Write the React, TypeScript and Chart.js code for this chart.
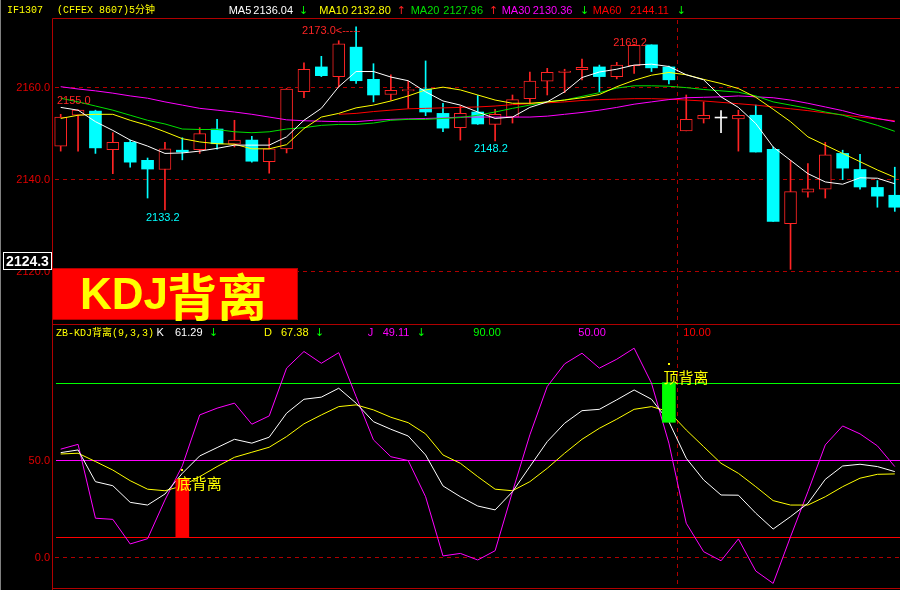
import React, { useEffect, useRef } from 'react';
import { Chart, registerables } from 'chart.js';

Chart.register(...registerables);

// 5-minute bars, IF1307
const opens = [2147.1, 2153.8, 2154.7, 2146.3, 2147.9, 2144.0, 2142.0, 2146.2, 2146.3, 2150.8, 2147.5, 2148.4, 2143.7, 2146.5, 2158.9, 2164.3, 2162.2, 2168.6, 2161.6, 2158.3, 2159.1, 2159.5, 2154.2, 2151.1, 2154.5, 2151.8, 2153.4, 2157.4, 2161.2, 2163.1, 2163.7, 2164.3, 2162.2, 2164.6, 2169.1, 2164.3, 2150.4, 2153.0, 2153.3, 2153.0, 2153.8, 2146.4, 2130.2, 2137.1, 2137.7, 2145.5, 2142.0, 2138.1, 2136.4];
const highs = [2154.0, 2155.0, 2154.9, 2150.0, 2148.4, 2144.5, 2147.9, 2148.9, 2151.1, 2152.9, 2152.7, 2149.2, 2148.8, 2159.6, 2165.2, 2166.6, 2170.0, 2173.0, 2165.0, 2162.6, 2161.2, 2165.6, 2156.4, 2155.8, 2158.1, 2155.1, 2158.2, 2163.2, 2164.0, 2163.8, 2166.0, 2164.7, 2165.3, 2169.2, 2169.1, 2164.5, 2158.2, 2156.7, 2154.8, 2154.9, 2156.0, 2146.9, 2144.0, 2143.3, 2147.9, 2146.2, 2145.3, 2139.6, 2142.5];
const lows = [2146.0, 2146.0, 2145.5, 2141.1, 2142.5, 2135.8, 2133.2, 2144.1, 2145.5, 2146.4, 2146.9, 2143.6, 2141.2, 2145.6, 2157.6, 2162.2, 2160.0, 2160.7, 2156.7, 2157.1, 2155.3, 2153.7, 2150.2, 2148.4, 2151.8, 2148.2, 2152.1, 2156.2, 2158.2, 2158.7, 2161.5, 2158.9, 2161.7, 2162.9, 2163.3, 2160.6, 2150.4, 2152.1, 2150.0, 2146.0, 2145.8, 2130.7, 2120.3, 2136.0, 2135.8, 2139.8, 2137.7, 2133.8, 2132.9];
const closes = [2153.4, 2154.9, 2146.7, 2147.9, 2143.6, 2142.1, 2146.5, 2145.8, 2149.8, 2147.6, 2148.4, 2143.8, 2146.5, 2159.5, 2163.8, 2162.4, 2169.3, 2161.3, 2158.2, 2159.2, 2159.4, 2154.5, 2151.0, 2154.2, 2151.9, 2154.0, 2157.2, 2161.2, 2163.1, 2163.4, 2164.2, 2162.2, 2164.7, 2169.0, 2164.1, 2161.5, 2152.9, 2153.8, 2153.3, 2153.8, 2145.8, 2130.7, 2137.2, 2137.8, 2145.2, 2142.3, 2138.2, 2136.2, 2133.8];

// moving averages
const ma5 = [2155.5, 2154.9, 2152.4, 2150.5, 2148.4, 2147.1, 2145.5, 2145.6, 2146.0, 2146.6, 2147.3, 2147.3, 2147.3, 2149.1, 2152.7, 2155.3, 2160.0, 2163.3, 2163.3, 2162.1, 2161.3, 2158.9, 2156.9, 2156.0, 2154.5, 2153.1, 2153.4, 2155.5, 2156.7, 2158.9, 2162.0, 2163.2, 2163.8, 2164.7, 2164.9, 2164.4, 2162.6, 2161.5, 2157.8, 2155.5, 2152.0, 2146.9, 2144.0, 2141.1, 2139.3, 2138.8, 2140.2, 2140.1, 2138.9];
const ma10 = [2153.1, 2153.8, 2154.0, 2154.0, 2152.7, 2151.6, 2150.2, 2148.7, 2148.0, 2147.6, 2147.5, 2146.5, 2146.5, 2147.4, 2150.9, 2153.4, 2154.2, 2155.4, 2156.0, 2156.9, 2158.0, 2159.3, 2159.9, 2159.3, 2158.2, 2157.1, 2156.4, 2156.4, 2156.7, 2157.1, 2157.6, 2158.3, 2160.0, 2161.4, 2162.5, 2163.1, 2162.6, 2161.6, 2160.7, 2159.6, 2157.7, 2155.1, 2152.4, 2149.1, 2147.3, 2145.5, 2143.7, 2141.9, 2140.3];
const ma20 = [2157.5, 2156.7, 2155.8, 2154.9, 2153.8, 2152.7, 2151.9, 2150.8, 2150.7, 2150.7, 2150.2, 2150.0, 2150.2, 2150.8, 2151.1, 2151.6, 2151.8, 2151.8, 2152.1, 2152.7, 2152.9, 2152.9, 2153.1, 2153.3, 2153.8, 2154.5, 2155.3, 2156.0, 2156.7, 2157.1, 2157.9, 2158.7, 2159.7, 2160.2, 2160.2, 2160.1, 2159.8, 2159.4, 2159.1, 2158.8, 2158.0, 2156.7, 2156.0, 2155.3, 2154.5, 2153.8, 2152.7, 2151.6, 2150.3];
const ma30 = [2160.0, 2159.5, 2159.1, 2158.6, 2158.0, 2157.5, 2156.7, 2156.0, 2155.3, 2154.9, 2154.5, 2154.0, 2153.4, 2152.8, 2152.6, 2152.5, 2152.4, 2152.4, 2152.7, 2152.9, 2153.0, 2153.1, 2153.2, 2153.4, 2153.4, 2153.4, 2153.4, 2153.4, 2153.6, 2154.0, 2154.4, 2154.9, 2155.5, 2156.2, 2156.7, 2157.2, 2157.6, 2157.7, 2157.8, 2158.0, 2157.8, 2157.6, 2157.1, 2156.4, 2155.6, 2154.8, 2153.8, 2153.1, 2152.4];
const ma60 = [null, null, null, null, null, null, null, null, null, null, null, null, null, null, null, null, 2154.0, 2154.2, 2154.6, 2154.9, 2155.2, 2155.3, 2155.4, 2155.5, 2155.6, 2155.8, 2156.1, 2156.3, 2156.5, 2156.7, 2157.0, 2157.2, 2157.3, 2157.4, 2157.4, 2157.3, 2157.1, 2156.9, 2156.6, 2156.3, 2156.0, 2155.6, 2155.2, 2154.8, 2154.3, 2153.9, 2153.4, 2153.0, 2152.6];

// KDJ(9,3,3)
const kLine = [53.8, 55.2, 38.8, 36.7, 28.1, 26.7, 32.4, 43.1, 52.1, 56.4, 60.7, 58.7, 61.8, 74.2, 81.4, 82.5, 87.1, 79.4, 69.8, 65.9, 62.4, 52.6, 36.6, 31.0, 26.2, 24.2, 33.6, 46.6, 59.5, 69.0, 75.5, 76.2, 81.1, 86.2, 81.4, 69.8, 50.9, 39.7, 31.9, 31.8, 22.5, 14.3, 20.7, 27.6, 40.0, 46.9, 47.8, 46.6, 44.0];
const dLine = [53.1, 53.5, 49.2, 44.8, 39.3, 34.9, 34.1, 36.6, 41.4, 46.6, 51.4, 54.0, 56.6, 62.1, 68.7, 73.3, 77.6, 78.5, 75.9, 72.1, 69.3, 63.5, 52.6, 48.3, 41.4, 34.9, 34.1, 38.8, 45.7, 53.5, 60.7, 66.4, 71.1, 76.2, 77.6, 75.0, 65.5, 56.9, 48.3, 43.1, 36.2, 29.0, 26.7, 26.7, 31.0, 36.2, 40.6, 42.6, 42.8];
const jLine = [55.6, 58.1, 19.9, 19.3, 6.6, 9.3, 29.3, 47.0, 73.3, 76.8, 79.4, 68.5, 72.8, 97.5, 106.1, 100.0, 105.5, 82.8, 60.4, 51.7, 49.7, 31.0, 0.4, 1.7, -1.7, 3.1, 33.6, 63.0, 88.0, 99.7, 105.2, 97.5, 102.1, 107.8, 89.7, 58.7, 17.3, 2.6, -2.1, 9.2, -7.4, -13.8, 10.3, 33.6, 57.8, 67.6, 63.5, 57.3, 46.6];

// divergence signals
const divIndex = [7, 35];
const divLow = [10, 69.5];
const divHigh = [40, 90];
const divText = ['底背离', '顶背离'];
const divColor = ['#ff0000', '#00ff00'];

// reference levels of the KDJ pane
const kdjLevels = [90, 50, 10];
const kdjLevelColors = ['#00ff00', '#ff00ff', '#ff0000'];

// header readings
const maNames = ['MA5', 'MA10', 'MA20', 'MA30', 'MA60'];
const maLast = ['2136.04', '2132.80', '2127.96', '2130.36', '2144.11'];
const maTrend = ['↓', '↑', '↑', '↓', '↓'];
const maColors = ['#ffffff', '#ffff00', '#00e000', '#ff00ff', '#ff0000'];
const kdjLast = ['61.29', '67.38', '49.11'];

// axis ticks
const priceTicks = [2160, 2140, 2120];
const kdjTicks = [50, 0];

const RED = '#ff2424';
const CYAN = '#00ffff';
const FRAME = '#b00000';
const AXIS_TXT = '#e00000';
const SANS = '11px "Liberation Sans", Arial, sans-serif';
const MONO = '10px "Liberation Mono", "DejaVu Sans Mono", monospace';
const CJK = '"Noto Sans CJK SC", sans-serif';
const ARROW = '11px "DejaVu Sans", sans-serif';

function text(ctx: CanvasRenderingContext2D, s: string, x: number, y: number, color: string, font: string, align: CanvasTextAlign = 'left') {
  ctx.font = font;
  ctx.fillStyle = color;
  ctx.textAlign = align;
  ctx.textBaseline = 'middle';
  ctx.fillText(s, x, y);
}

const decorations = {
  id: 'decorations',
  beforeDraw(chart: any) {
    const ctx = chart.ctx as CanvasRenderingContext2D;
    ctx.save();
    ctx.fillStyle = '#000';
    ctx.fillRect(0, 0, chart.width, chart.height);
    ctx.restore();
  },
  beforeDatasetsDraw(chart: any) {
    const ctx = chart.ctx as CanvasRenderingContext2D;
    const { left, right, top, bottom } = chart.chartArea;
    const y = chart.scales.y;
    const k = chart.scales.k;
    const x = chart.scales.x;
    const split = 324.5;
    ctx.save();
    ctx.lineWidth = 1;
    // outer grey edge
    ctx.strokeStyle = '#808080';
    ctx.beginPath();
    ctx.moveTo(0.5, 0);
    ctx.lineTo(0.5, chart.height);
    ctx.stroke();

    // dashed price grid
    ctx.strokeStyle = FRAME;
    ctx.setLineDash([4, 4]);
    priceTicks.forEach((p) => {
      const py = Math.round(y.getPixelForValue(p)) + 0.5;
      ctx.beginPath();
      ctx.moveTo(left + 3, py);
      ctx.lineTo(right, py);
      ctx.stroke();
    });
    const zy = Math.round(k.getPixelForValue(0)) + 0.5;
    ctx.beginPath();
    ctx.moveTo(left + 3, zy);
    ctx.lineTo(right, zy);
    ctx.stroke();

    // crosshair
    const cx = Math.round(x.getPixelForValue(35.48)) + 0.5;
    ctx.beginPath();
    ctx.moveTo(cx, top + 1);
    ctx.lineTo(cx, bottom);
    ctx.stroke();
    ctx.setLineDash([]);

    // frame
    ctx.beginPath();
    ctx.moveTo(left + 0.5, top - 0.5);
    ctx.lineTo(right, top - 0.5);
    ctx.moveTo(left + 0.5, top - 0.5);
    ctx.lineTo(left + 0.5, chart.height);
    ctx.moveTo(left, split);
    ctx.lineTo(right, split);
    ctx.moveTo(left, bottom + 0.5);
    ctx.lineTo(right, bottom + 0.5);
    ctx.stroke();

    // KDJ reference levels
    kdjLevels.forEach((lv, i) => {
      const ly = Math.round(k.getPixelForValue(lv)) + 0.5;
      ctx.strokeStyle = kdjLevelColors[i];
      ctx.beginPath();
      ctx.moveTo(left + 4, ly);
      ctx.lineTo(right, ly);
      ctx.stroke();
    });
    ctx.restore();
  },
  afterDatasetsDraw(chart: any) {
    const ctx = chart.ctx as CanvasRenderingContext2D;
    const { left } = chart.chartArea;
    const y = chart.scales.y;
    const k = chart.scales.k;
    const x = chart.scales.x;
    ctx.save();

    // axis labels
    priceTicks.forEach((p) => text(ctx, p.toFixed(1), left - 2, y.getPixelForValue(p) + 1, AXIS_TXT, SANS, 'right'));
    kdjTicks.forEach((v) => text(ctx, v.toFixed(1), left - 2, k.getPixelForValue(v) + 1, AXIS_TXT, SANS, 'right'));

    // high / low marks
    text(ctx, '2173.0<-----', x.getPixelForValue(17) - 54, y.getPixelForValue(2173.0) + 4, RED, SANS);
    text(ctx, '2169.2', x.getPixelForValue(33) - 21, y.getPixelForValue(2169.2) - 1, RED, SANS);
    text(ctx, '2155.0', left + 5, y.getPixelForValue(2155.0) - 9, RED, SANS);
    text(ctx, '2133.2', x.getPixelForValue(6) - 19, y.getPixelForValue(2133.2) + 8, CYAN, SANS);
    text(ctx, '2148.2', x.getPixelForValue(25) - 21, y.getPixelForValue(2148.2) + 8, CYAN, SANS);

    // header: contract and moving averages
    text(ctx, 'IF1307', 7, 10, '#ffff00', MONO);
    text(ctx, '(CFFEX 8607)5分钟', 57, 10, '#ffff00', `10px "Liberation Mono", ${CJK}`);
    const nameX = [228.7, 319.3, 410.7, 501.7, 592.7];
    const valX = [253.3, 351, 443.3, 532.7, 630];
    const arrowX = [299, 396.7, 489, 580, 676.7];
    maNames.forEach((nm, i) => {
      text(ctx, nm, nameX[i], 11, maColors[i], SANS);
      text(ctx, maLast[i], valX[i], 11, maColors[i], SANS);
      text(ctx, maTrend[i], arrowX[i], 11, maTrend[i] === '↑' ? '#ff2020' : '#00ff00', ARROW);
    });

    // header: KDJ
    text(ctx, 'ZB-KDJ背离(9,3,3)', 56, 333, '#ffff00', `10px "Liberation Mono", ${CJK}`);
    text(ctx, 'K', 156.5, 333, '#ffffff', SANS);
    text(ctx, kdjLast[0], 175, 333, '#ffffff', SANS);
    text(ctx, '↓', 209, 333, '#00ff00', ARROW);
    text(ctx, 'D', 264, 333, '#ffff00', SANS);
    text(ctx, kdjLast[1], 281, 333, '#ffff00', SANS);
    text(ctx, '↓', 315, 333, '#00ff00', ARROW);
    text(ctx, 'J', 367.7, 333, '#ff00ff', SANS);
    text(ctx, kdjLast[2], 382.7, 333, '#ff00ff', SANS);
    text(ctx, '↓', 416.7, 333, '#00ff00', ARROW);
    const lvX = [473.3, 578.3, 683.3];
    kdjLevels.forEach((lv, i) => text(ctx, lv.toFixed(2), lvX[i], 333, kdjLevelColors[i], SANS));

    // divergence labels
    const labelVal = [38, 93];
    const dotVal = [44.8, 99.6];
    divIndex.forEach((di, i) => {
      const bx = x.getPixelForValue(di);
      ctx.fillStyle = '#ffff00';
      ctx.fillRect(Math.round(bx - 1), Math.round(k.getPixelForValue(dotVal[i])) - 1, 2, 2);
      text(ctx, divText[i], bx - 5.5, k.getPixelForValue(labelVal[i]), '#ffff00', `15px ${CJK}`);
    });

    // banner
    ctx.fillStyle = '#ff0000';
    ctx.fillRect(52, 268, 246, 52);
    ctx.strokeStyle = '#b00000';
    ctx.lineWidth = 1;
    ctx.strokeRect(52.5, 268.5, 245, 51);
    ctx.font = 'bold 44px "Liberation Sans", Arial, sans-serif';
    ctx.fillStyle = '#ffff00';
    ctx.textAlign = 'left';
    ctx.textBaseline = 'alphabetic';
    ctx.fillText('KDJ', 80, 309);
    ctx.font = `bold 50px ${CJK}`;
    ctx.textBaseline = 'middle';
    ctx.fillText('背离', 167, 297);

    // current price box
    ctx.fillStyle = '#000';
    ctx.fillRect(3, 252, 49, 18);
    ctx.strokeStyle = '#ffffff';
    ctx.strokeRect(3.5, 252.5, 48, 17);
    text(ctx, '2124.3', 27.5, 262, '#ffffff', 'bold 14px "Liberation Sans", Arial, sans-serif', 'center');
    ctx.restore();
  },
};

export default function App() {
  const ref = useRef<HTMLCanvasElement>(null);

  useEffect(() => {
    document.body.style.margin = '0';
    document.body.style.background = '#000';
    const canvas = ref.current!;
    const idx = closes.map((_, i) => i);
    const isFlat = idx.map((i) => closes[i] === opens[i]);
    const isUp = idx.map((i) => closes[i] > opens[i]);
    const color = idx.map((i) => (isFlat[i] ? '#ffffff' : isUp[i] ? RED : CYAN));

    const line = (vals: (number | null)[], c: string, axis: string, label: string) => ({
      type: 'line' as const,
      label,
      data: vals.map((v, i) => (v == null ? null : { x: i, y: v })).filter((p) => p !== null),
      yAxisID: axis,
      borderColor: c,
      borderWidth: 1,
      pointRadius: 0,
      tension: 0,
      fill: false,
      order: 0,
    });

    const chart = new Chart(canvas, {
      type: 'bar',
      data: {
        datasets: [
          {
            type: 'bar',
            label: 'divergence',
            data: divIndex.map((d, i) => ({ x: d, y: [divLow[i], divHigh[i]] })) as any,
            yAxisID: 'k',
            backgroundColor: divColor,
            barThickness: 13,
            grouped: false,
            order: -1,
          },
          line(ma5, '#ffffff', 'y', 'MA5'),
          line(ma10, '#ffff00', 'y', 'MA10'),
          line(ma20, '#00e000', 'y', 'MA20'),
          line(ma30, '#ff00ff', 'y', 'MA30'),
          line(ma60, '#ff0000', 'y', 'MA60'),
          line(kLine, '#ffffff', 'k', 'K'),
          line(dLine, '#ffff00', 'k', 'D'),
          line(jLine, '#ff00ff', 'k', 'J'),
          {
            type: 'bar',
            label: 'body',
            data: idx.map((i) => ({
              x: i,
              y: isFlat[i] ? [opens[i] - 0.1, opens[i] + 0.1] : [opens[i], closes[i]],
            })) as any,
            yAxisID: 'y',
            backgroundColor: idx.map((i) => (isUp[i] ? '#000000' : color[i])),
            borderColor: color,
            borderWidth: idx.map((i) => (isUp[i] ? 1 : 0)),
            borderSkipped: false,
            barThickness: 12,
            grouped: false,
            order: 2,
          },
          {
            type: 'bar',
            label: 'wick',
            data: idx.map((i) => ({ x: i, y: [lows[i], highs[i]] })) as any,
            yAxisID: 'y',
            backgroundColor: color,
            barThickness: 1,
            grouped: false,
            order: 3,
          },
        ] as any,
      },
      options: {
        responsive: false,
        animation: false,
        devicePixelRatio: 1,
        layout: { padding: { left: 52, top: 19, right: 0, bottom: 2 } },
        plugins: { legend: { display: false }, tooltip: { enabled: false } },
        scales: {
          x: { type: 'linear', min: -0.5, max: 48.3, offset: false, bounds: 'ticks', grace: 0, display: false },
          y: { type: 'linear', min: 2051.02, max: 2174.72, display: false },
          k: { type: 'linear', min: -16.18, max: 278.0, display: false },
        },
      },
      plugins: [decorations],
    });
    return () => chart.destroy();
  }, []);

  return <canvas ref={ref} width={900} height={590} style={{ display: 'block' }} />;
}
